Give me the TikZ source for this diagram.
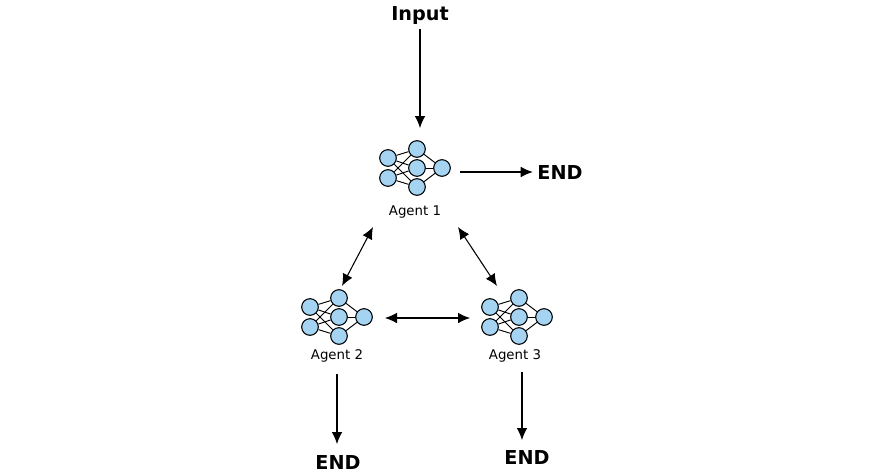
\documentclass[tikz,border=0pt]{standalone}
\usepackage{fontspec}
\setmainfont{DejaVu Sans}
\usetikzlibrary{arrows.meta}
\definecolor{neuronblue}{RGB}{164,212,242}
\tikzset{
  neuron/.style={circle,draw,fill=neuronblue,line width=0.8pt,minimum size=12.5,inner sep=0pt},
  flow/.style={-{Latex[length=9pt,width=8pt]},line width=0.8pt},
  both/.style={{Latex[length=9pt,width=8pt]}-{Latex[length=9pt,width=8pt]},line width=0.8pt},
  lbl/.style={font=\normalsize},
  big/.style={font=\Large\bfseries}
}
% #1 name, (#2,#3) centre of the middle column
\newcommand{\agentnet}[3]{
  \node[neuron](#1i1)at(#2-29,#3-10){};
  \node[neuron](#1i2)at(#2-29,#3+10){};
  \node[neuron](#1m1)at(#2,#3-19){};
  \node[neuron](#1m2)at(#2,#3){};
  \node[neuron](#1m3)at(#2,#3+19){};
  \node[neuron](#1o)at(#2+25,#3){};
  \foreach \a in {1,2}{
    \foreach \b in {1,2,3}{
      \draw[line width=0.7pt] (#1i\a) -- (#1m\b);
    }
  }
  \foreach \b in {1,2,3}{
    \draw[line width=0.7pt] (#1m\b) -- (#1o);
  }
}
\begin{document}
\begin{tikzpicture}[x=0.75pt,y=-0.75pt]
\useasboundingbox (0,0) rectangle (872,475);
\agentnet{a}{417}{168}
\agentnet{b}{339}{317}
\agentnet{c}{519}{317}
\node[big](input)at(420,15){Input};
\node[lbl](agent1)at(415,212){Agent 1};
\node[lbl](agent2)at(337,356){Agent 2};
\node[lbl](agent3)at(515,356){Agent 3};
\node[big](end1)at(560,172){END};
\node[big](end2)at(338,462){END};
\node[big](end3)at(527,457){END};
\coordinate (a1sw) at (373,227);
\coordinate (a1se) at (458,227);
\coordinate (a2n) at (342,286);
\coordinate (a3n) at (497,286);
\coordinate (a2e) at (385,318);
\coordinate (a3w) at (470,318);
\coordinate (a2s) at (337,374);
\coordinate (a3s) at (522,372);
\draw[flow] (input) -- (420,128);
\draw[flow] (460,172) -- (end1);
\draw[both] (a1sw) -- (a2n);
\draw[both] (a1se) -- (a3n);
\draw[both] (a2e) -- (a3w);
\draw[flow] (a2s) -- (337,444);
\draw[flow] (a3s) -- (522,440);
\end{tikzpicture}
\end{document}
